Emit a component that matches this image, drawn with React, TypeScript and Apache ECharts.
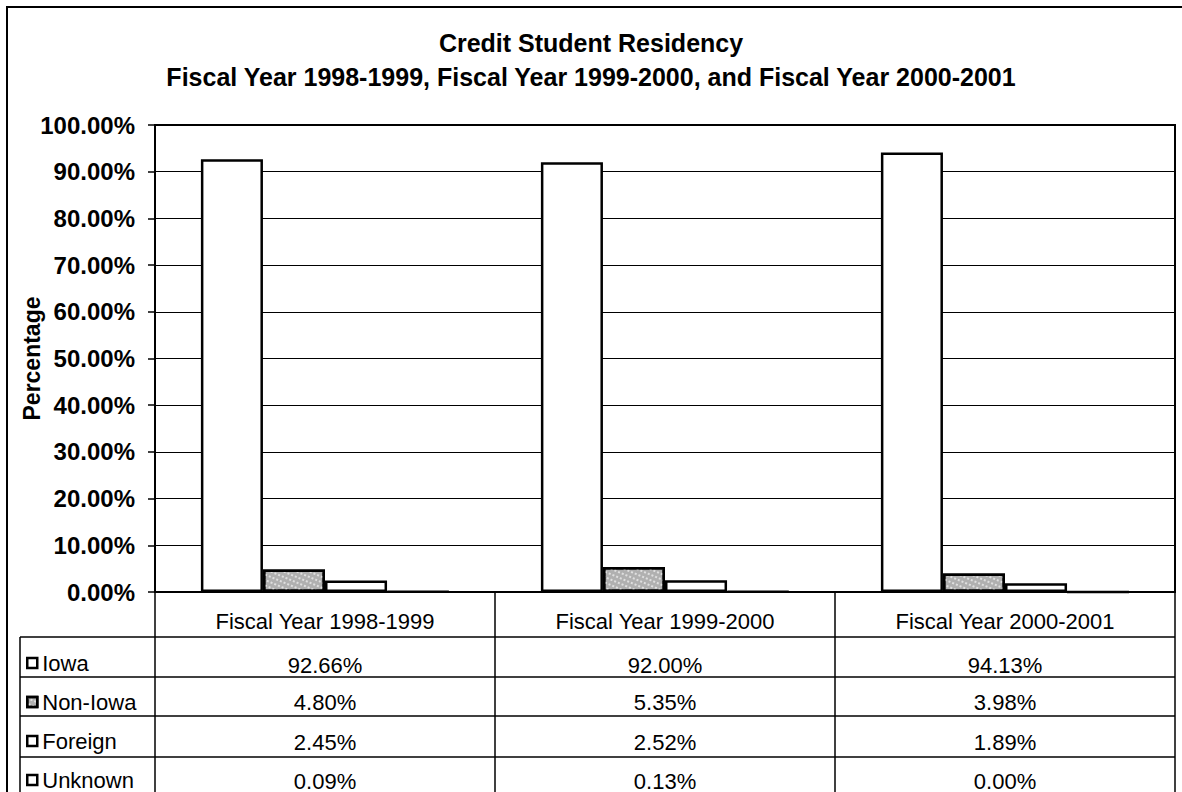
import React, { useEffect, useRef } from 'react';
import * as echarts from 'echarts';

const categories = ['Fiscal Year 1998-1999', 'Fiscal Year 1999-2000', 'Fiscal Year 2000-2001'];
const seriesNames = ['Iowa', 'Non-Iowa', 'Foreign', 'Unknown'];
const iowa = [92.66, 92.0, 94.13];
const nonIowa = [4.8, 5.35, 3.98];
const foreign = [2.45, 2.52, 1.89];
const unknown = [0.09, 0.13, 0.0];
const yMin = 0;
const yMax = 100;
const yStep = 10;
const titleLines = [
  'Credit Student Residency',
  'Fiscal Year 1998-1999, Fiscal Year 1999-2000, and Fiscal Year 2000-2001',
];
const yAxisName = 'Percentage';

const FONT = '"Liberation Sans", Arial, Helvetica, sans-serif';
const fmt = (v: number) => v.toFixed(2) + '%';

export default function App() {
  const ref = useRef<HTMLDivElement>(null);
  useEffect(() => {
    if (!ref.current) return;
    const chart = echarts.init(ref.current, undefined, { renderer: 'svg' });
    const values = [iowa, nonIowa, foreign, unknown];
    const rowMargins = [73, 110, 150, 189];
    const fills = ['#ffffff', '#b0b0b0', '#ffffff', '#ffffff'];

    const extraAxes = values.map((vals, i) => ({
      type: 'category',
      data: categories,
      gridIndex: 0,
      position: 'bottom',
      axisLine: { show: false },
      axisTick: { show: false },
      splitLine: { show: false },
      axisLabel: {
        margin: rowMargins[i],
        verticalAlign: 'middle',
        fontSize: 22,
        color: '#000',
        fontFamily: FONT,
        formatter: (_v: string, idx: number) => fmt(vals[idx]),
      },
    }));

    const option: any = {
      animation: false,
      backgroundColor: '#fff',
      title: {
        text: titleLines.join('\n'),
        left: 'center',
        top: 21,
        textStyle: { fontSize: 25, fontWeight: 'bold', color: '#000', fontFamily: FONT, lineHeight: 34 },
      },
      legend: {
        orient: 'vertical',
        left: 26,
        top: 652,
        padding: 0,
        icon: 'rect',
        itemWidth: 10,
        itemHeight: 10,
        itemGap: 17,
        selectedMode: false,
        data: seriesNames,
        itemStyle: { borderColor: '#000', borderWidth: 2.5 },
        textStyle: { fontSize: 22, color: '#000', fontFamily: FONT, lineHeight: 16, padding: [6, 0, 0, 0] },
      },
      grid: { left: 155, right: 7, top: 125, bottom: 199, show: true, borderColor: '#000', borderWidth: 2, backgroundColor: 'transparent' },
      xAxis: [
        {
          type: 'category',
          data: categories,
          position: 'bottom',
          axisLine: { lineStyle: { color: '#000', width: 2 } },
          axisTick: { show: true, alignWithLabel: false, length: 220, lineStyle: { color: '#000', width: 1.5 } },
          axisLabel: { margin: 29, verticalAlign: 'middle', fontSize: 22, color: '#000', fontFamily: FONT },
          splitLine: { show: false },
        },
        ...extraAxes,
      ],
      yAxis: {
        type: 'value',
        min: yMin,
        max: yMax,
        interval: yStep,
        name: yAxisName,
        nameLocation: 'middle',
        nameGap: 112,
        nameMoveOverlap: false,
        nameTextStyle: { fontSize: 23, fontWeight: 'bold', color: '#000', fontFamily: FONT },
        axisLine: { show: true, lineStyle: { color: '#000', width: 2 } },
        axisTick: { show: true, length: 7, lineStyle: { color: '#000', width: 1.5 } },
        axisLabel: {
          margin: 20,
          fontSize: 24,
          fontWeight: 'bold',
          color: '#000',
          fontFamily: FONT,
          formatter: (v: number) => fmt(v),
        },
        splitLine: { show: true, lineStyle: { color: '#000', width: 1 } },
      },
      series: seriesNames.map((name, i) => ({
        name,
        type: 'bar',
        data: values[i],
        barGap: '0%',
        barCategoryGap: '27%',
        itemStyle: {
          color: fills[i],
          borderColor: '#000',
          borderWidth: 2.5,
          decal:
            i === 1
              ? { symbol: 'rect', symbolSize: 1, color: 'rgba(255,255,255,0.6)', dashArrayX: [2, 2], dashArrayY: [2, 3], rotation: 0.4 }
              : undefined,
        },
      })),
      graphic: [
        { type: 'rect', shape: { x: 7, y: 7, width: 1190, height: 800 }, style: { fill: 'none', stroke: '#000', lineWidth: 2 }, silent: true, z: 100 },
        { type: 'line', shape: { x1: 20, y1: 637, x2: 1175, y2: 637 }, style: { stroke: '#000', lineWidth: 1.5 }, silent: true, z: 100 },
        { type: 'line', shape: { x1: 20, y1: 677, x2: 1175, y2: 677 }, style: { stroke: '#000', lineWidth: 1.5 }, silent: true, z: 100 },
        { type: 'line', shape: { x1: 20, y1: 716, x2: 1175, y2: 716 }, style: { stroke: '#000', lineWidth: 1.5 }, silent: true, z: 100 },
        { type: 'line', shape: { x1: 20, y1: 757, x2: 1175, y2: 757 }, style: { stroke: '#000', lineWidth: 1.5 }, silent: true, z: 100 },
        { type: 'line', shape: { x1: 20, y1: 637, x2: 20, y2: 800 }, style: { stroke: '#000', lineWidth: 1.5 }, silent: true, z: 100 },
      ],
    };
    chart.setOption(option);
    return () => chart.dispose();
  }, []);
  return (
    <div
      ref={ref}
      style={{ position: 'absolute', left: 0, top: 0, width: 1182, height: 792 }}
    />
  );
}
